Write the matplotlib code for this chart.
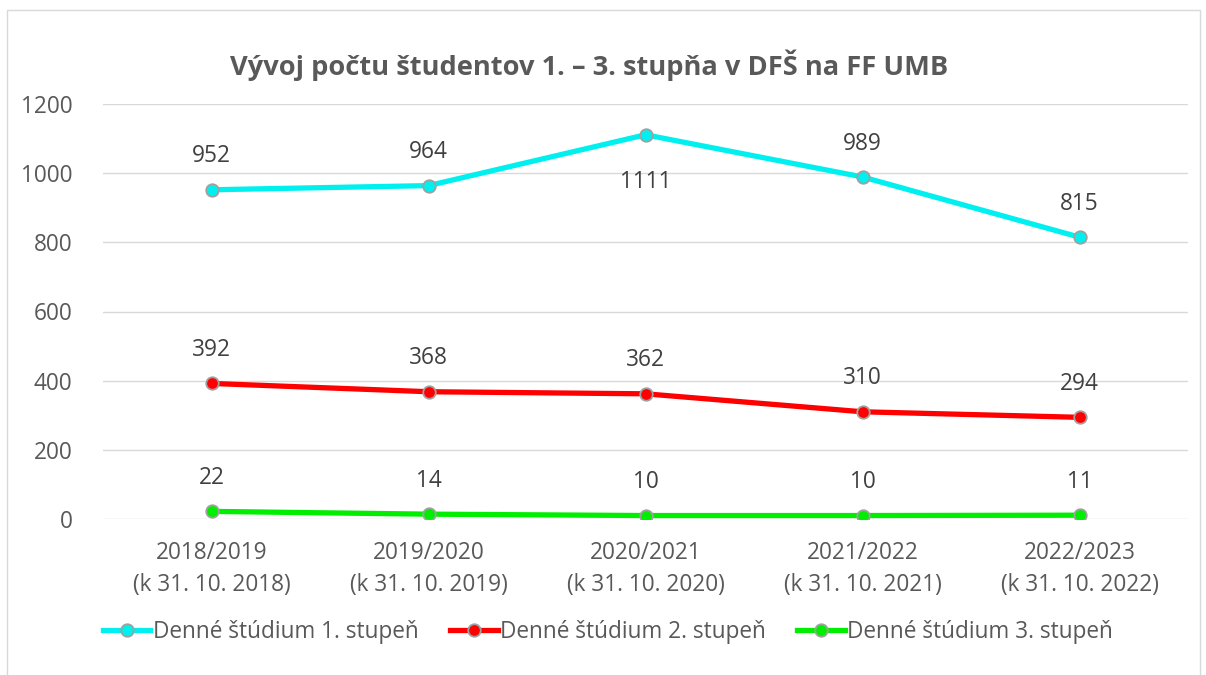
import matplotlib
matplotlib.use("Agg")
import matplotlib.pyplot as plt
from matplotlib.patches import Rectangle

# Data
categories = ["2018/2019\n(k 31. 10. 2018)", "2019/2020\n(k 31. 10. 2019)",
              "2020/2021\n(k 31. 10. 2020)", "2021/2022\n(k 31. 10. 2021)",
              "2022/2023\n(k 31. 10. 2022)"]
stupen1 = [952, 964, 1111, 989, 815]
stupen2 = [392, 368, 362, 310, 294]
stupen3 = [22, 14, 10, 10, 11]
series_names = ["Denné štúdium 1. stupeň", "Denné štúdium 2. stupeň",
                "Denné štúdium 3. stupeň"]
yticks = [0, 200, 400, 600, 800, 1000, 1200]

plt.rcParams["font.family"] = ["Open Sans", "DejaVu Sans"]
text_col = "#595959"

fig = plt.figure(figsize=(12.06, 6.75), dpi=100)
fig.patches.append(Rectangle((7 / 1206, -0.01), 1193 / 1206, 1 - 10 / 675 + 0.01,
                             transform=fig.transFigure, fill=False,
                             edgecolor="#D9D9D9", linewidth=1))
ax = fig.add_axes([103 / 1206, 156 / 675, 1085 / 1206, 415 / 675])

x = list(range(len(categories)))
colors = ["#00F0F0", "#FF0000", "#00EE00"]
all_series = [stupen1, stupen2, stupen3]
for vals, col, name in zip(all_series, colors, series_names):
    ax.plot(x, vals, color=col, linewidth=3.8, marker="o", markersize=9,
            markerfacecolor=col, markeredgecolor="#A0A0A0",
            markeredgewidth=1.3, label=name, zorder=3)

# data labels
for vals in all_series:
    for i, v in enumerate(vals):
        if v == 1111:
            ax.annotate(str(v), (i, v), xytext=(0, -34), textcoords="offset points",
                        ha="center", va="center", fontsize=16.3, color="#404040")
        else:
            ax.annotate(str(v), (i, v), xytext=(0, 24), textcoords="offset points",
                        ha="center", va="center", fontsize=16.3, color="#404040")

ax.set_xlim(-0.5, 4.5)
ax.set_ylim(0, 1200)
ax.set_yticks(yticks)
ax.set_xticks(x)
ax.set_xticklabels(categories, fontsize=16.3, color=text_col, linespacing=1.45)
ax.tick_params(axis="y", labelsize=16.3, labelcolor=text_col, length=0, pad=22)
ax.tick_params(axis="x", length=0, pad=16)
ax.grid(axis="y", color="#D9D9D9", linewidth=1)
ax.set_axisbelow(True)
for s in ax.spines.values():
    s.set_visible(False)

fig.text(589 / 1206, 1 - 65 / 675, "Vývoj počtu študentov 1. – 3. stupňa v DFŠ na FF UMB",
         ha="center", va="center", fontsize=19.6, fontweight="bold", color=text_col)

fig.legend(loc="center", bbox_to_anchor=(608 / 1206, 1 - 632 / 675), ncol=3,
           frameon=False, fontsize=16.3, labelcolor=text_col, handlelength=2.1,
           handletextpad=0.1, columnspacing=1.4)

fig.savefig("out.png", dpi=100)
